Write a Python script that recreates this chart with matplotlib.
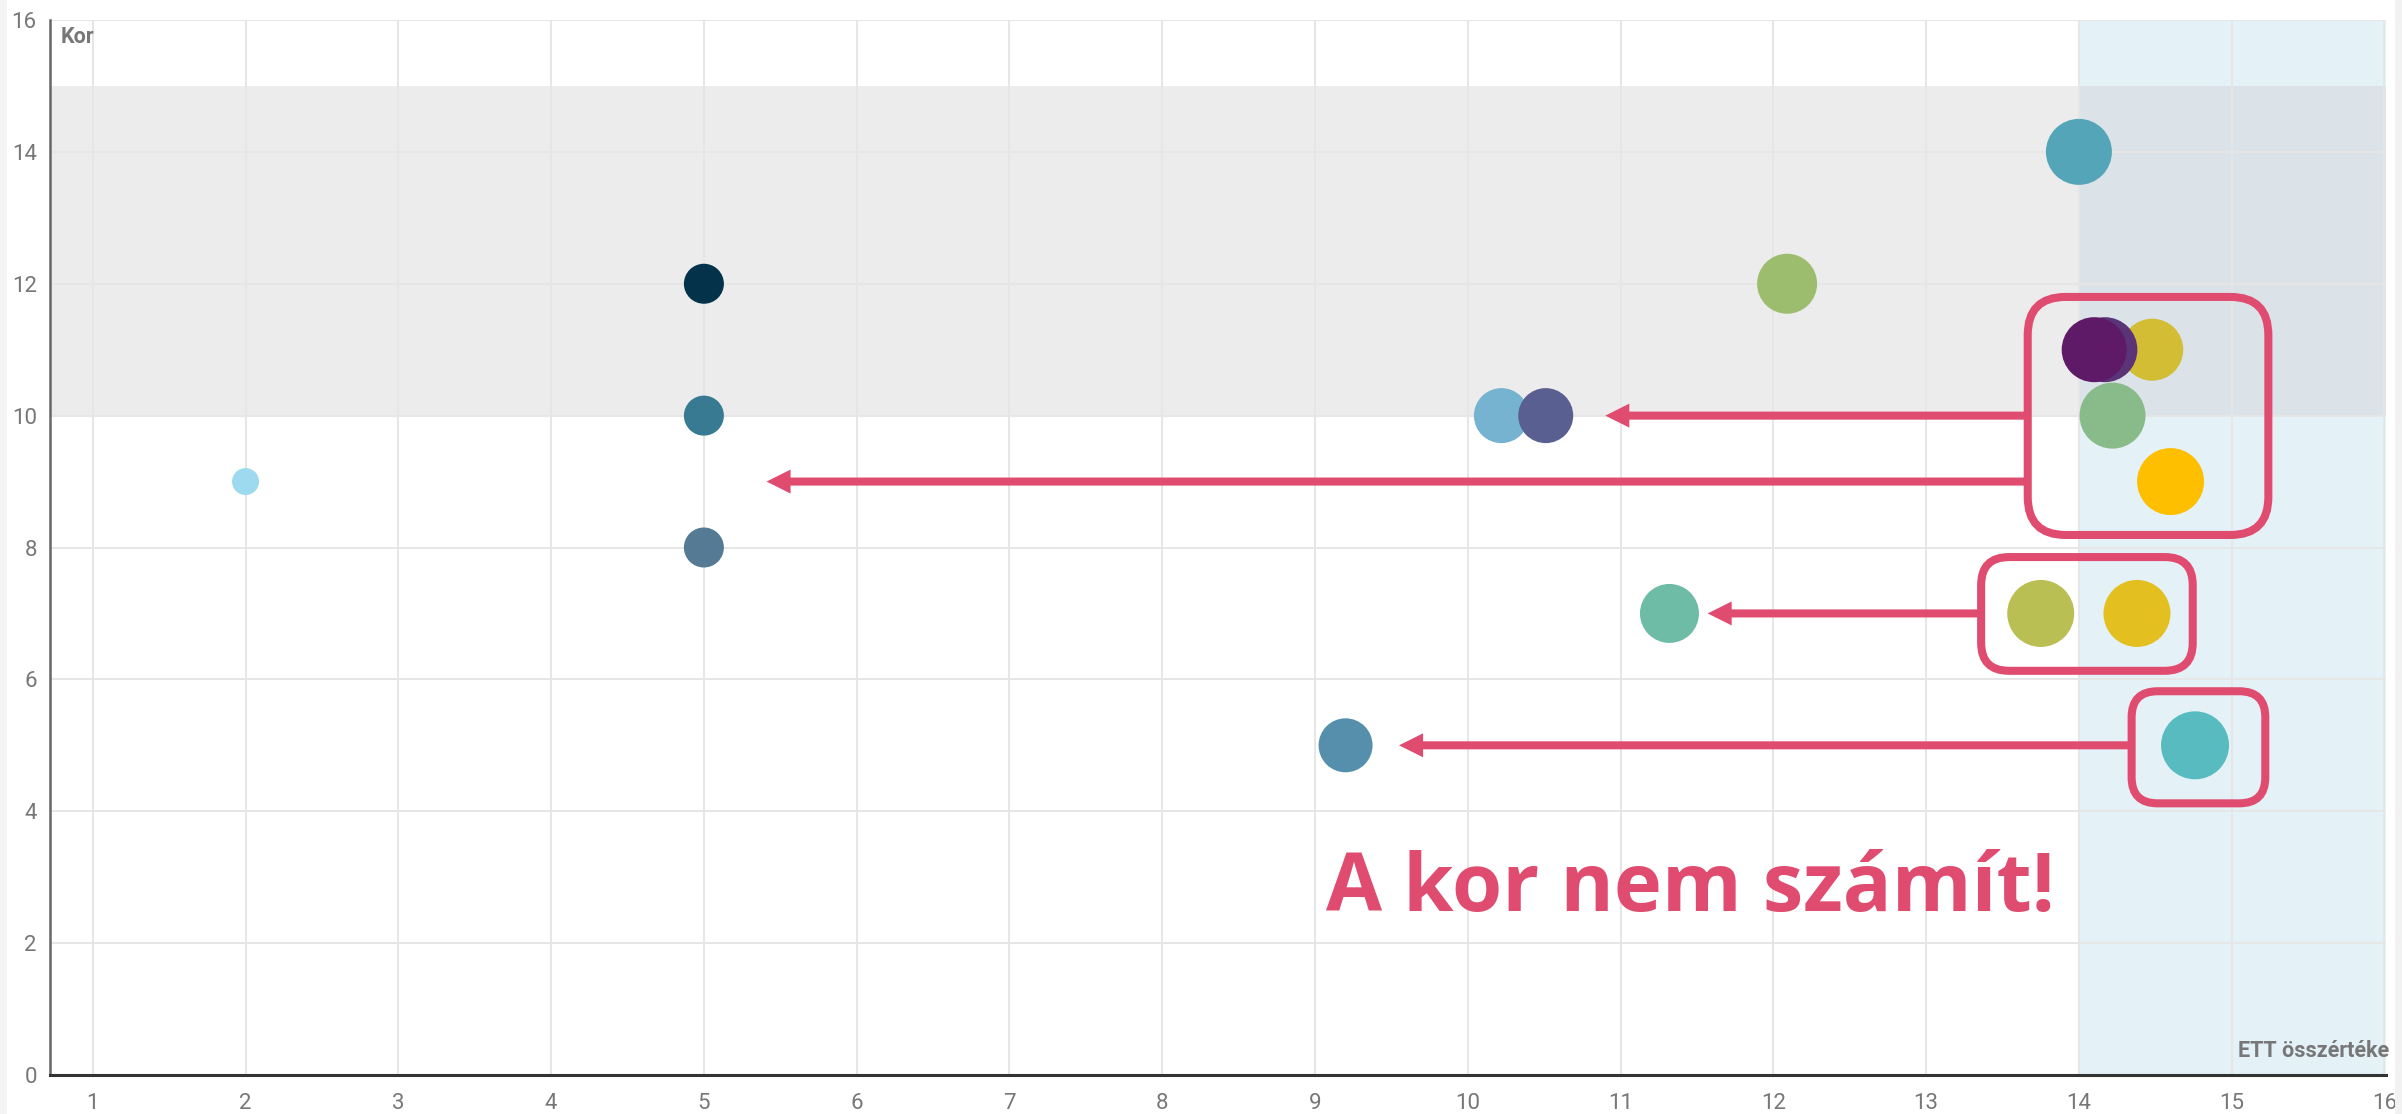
import matplotlib
matplotlib.use("Agg")
import matplotlib.pyplot as plt
from matplotlib.patches import Rectangle, FancyBboxPatch, FancyArrowPatch

# ---------------- data ----------------
ett = [2.0, 5.0, 5.0, 5.0, 9.2, 10.22, 10.51, 11.32, 12.09, 14.0,
       14.48, 14.17, 14.10, 14.22, 14.60, 13.75, 14.38, 14.76]
kor = [9, 12, 10, 8, 5, 10, 10, 7, 12, 14,
       11, 11, 11, 10, 9, 7, 7, 5]
bubble = [27, 40, 40, 40, 54, 55, 55, 59, 60, 66,
          62, 65, 65, 66, 67, 67, 67, 68]
colors = ['#9dd9ef', '#03324a', '#377a92', '#557a94', '#558fab', '#76b3d0',
          '#5a5f91', '#6fbca6', '#9dbd6e', '#55a5b9', '#d2bd35', '#5b3477',
          '#5e1a66', '#89bb8a', '#fdbf00', '#b9bf53', '#e3bf20', '#57bbc0']

x_ticks = list(range(1, 17))
y_ticks = list(range(0, 17, 2))

band_age = (10, 15)       # gray horizontal band (Kor)
band_ett = (14, 16.01)    # light blue vertical band (ETT)

# annotation boxes (x0, x1, y0, y1) and arrows (tail x, tip x, y)
box_x0 = [13.665, 13.36, 14.345]
box_x1 = [15.24, 14.745, 15.22]
box_y0 = [8.19, 6.13, 4.12]
box_y1 = [11.80, 7.855, 5.82]
box_round_px = [38, 28, 26]
arrow_tail = [13.665, 13.665, 13.36, 14.345]
arrow_tip = [10.90, 5.41, 11.57, 9.55]
arrow_y = [10, 9, 7, 5]

title_text = "A kor nem számít!"
title_pos = (9.07, 2.49)

PINK = '#e04c6f'
DPI = 100

# ---------------- figure ----------------
W, H = 2402, 1114
fig = plt.figure(figsize=(W / DPI, H / DPI), dpi=DPI)
fig.patch.set_facecolor('white')
# light strips at the screenshot edges
fig.patches.append(Rectangle((0, 0), 7 / W, 1, transform=fig.transFigure,
                             facecolor='#f4f4f4', edgecolor='none'))
fig.patches.append(Rectangle((1 - 7 / W, 0), 7 / W, 1, transform=fig.transFigure,
                             facecolor='#f2f2f2', edgecolor='none'))

L, R, B, T = 50, 2386, 1075, 20
ax = fig.add_axes([L / W, 1 - B / H, (R - L) / W, (B - T) / H])
ax.set_xlim(0.72, 16.01)
ax.set_ylim(0, 16)
ax.set_facecolor('none')

# bands
ax.axhspan(*band_age, color='#ececec', zorder=0, lw=0)
ax.axvspan(*band_ett, color='#e4f2f8', zorder=0, lw=0)
ax.add_patch(Rectangle((band_ett[0], band_age[0]), band_ett[1] - band_ett[0],
                       band_age[1] - band_age[0], facecolor='#dbe3e9',
                       edgecolor='none', zorder=0.1))

# grid & axes
ax.set_xticks(x_ticks)
ax.set_yticks(y_ticks)
ax.grid(True, color='#e6e6e6', lw=1.4, zorder=0.5)
ax.set_axisbelow(True)
for s in ['top', 'right']:
    ax.spines[s].set_visible(False)
ax.spines['left'].set_color('#666666')
ax.spines['left'].set_linewidth(1.8)
ax.spines['bottom'].set_color('#333333')
ax.spines['bottom'].set_linewidth(2.2)
ax.spines['left'].set_zorder(5)
ax.spines['bottom'].set_zorder(5)

tick_font = dict(family=['Roboto', 'DejaVu Sans'], size=16, color='#777777')
ax.tick_params(axis='both', length=0)
ax.tick_params(axis='y', pad=9.5)
ax.tick_params(axis='x', pad=13)
ax.set_xticklabels([str(v) for v in x_ticks], **tick_font)
ax.set_yticklabels([str(v) for v in y_ticks], **tick_font)

# bubbles
sizes = [(d * 72 / DPI) ** 2 for d in bubble]
ax.scatter(ett, kor, s=sizes, c=colors, linewidths=0, zorder=3)

# axis titles
ax.text((61 - L) / (R - L), 1 - (43 - T) / (B - T), 'Kor',
        transform=ax.transAxes, ha='left', va='baseline',
        family=['Roboto', 'DejaVu Sans'], weight='bold', size=15.5, color='#777777')
ax.text((2389 - L) / (R - L), 1 - (1057 - T) / (B - T), 'ETT összértéke',
        transform=ax.transAxes, ha='right', va='baseline',
        family=['Roboto', 'DejaVu Sans'], weight='bold', size=15.5, color='#777777',
        clip_on=False)

# aspect for round corners
px_x = (R - L) / (16.01 - 0.72)
px_y = (B - T) / 16.0
aspect = px_x / px_y

for x0, x1, y0, y1, rp in zip(box_x0, box_x1, box_y0, box_y1, box_round_px):
    p = FancyBboxPatch((x0, y0), x1 - x0, y1 - y0,
                       boxstyle=f"round,pad=0,rounding_size={rp / px_x}",
                       mutation_aspect=aspect,
                       facecolor='none', edgecolor=PINK, lw=5.8, zorder=4,
                       clip_on=False)
    ax.add_patch(p)

for xt, xh, yy in zip(arrow_tail, arrow_tip, arrow_y):
    a = FancyArrowPatch((xt, yy), (xh, yy),
                        arrowstyle="simple,head_length=17.3,head_width=17.3,tail_width=5.8",
                        mutation_scale=1, color=PINK, lw=0, shrinkA=0, shrinkB=0,
                        zorder=4)
    ax.add_patch(a)

ax.text(title_pos[0], title_pos[1], title_text, ha='left', va='baseline',
        family=['Open Sans', 'DejaVu Sans'], weight='bold', size=58.5, color=PINK,
        zorder=6)

fig.savefig('out.png', dpi=DPI)
